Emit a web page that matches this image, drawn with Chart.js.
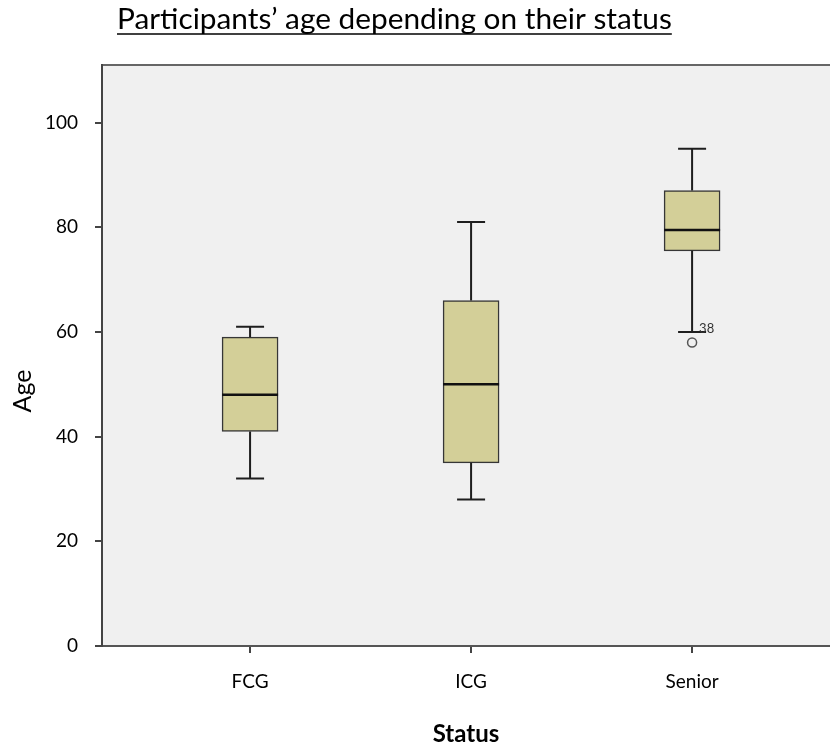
<!DOCTYPE html>
<html>
<head>
<meta charset="utf-8">
<script src="https://cdn.jsdelivr.net/npm/chart.js@4.4.1/dist/chart.umd.min.js"></script>
<style>
  html, body { margin: 0; padding: 0; background: #ffffff; overflow: hidden; }
  #wrap { width: 830px; height: 744px; overflow: hidden; }
  canvas { display: block; }
</style>
</head>
<body>
<div id="wrap"><canvas id="c" width="836" height="744"></canvas></div>
<script>
// ---- Data ----
const categories   = ['FCG', 'ICG', 'Senior'];
const whiskerLow   = [32, 28, 60];
const q1           = [41, 35, 75.5];
const medians      = [48, 50, 79.5];
const q3           = [59, 66, 87];
const whiskerHigh  = [61, 81, 95];
const outlierCategory = ['Senior'];
const outlierValues   = [58];
const outlierLabels   = ['38'];
const yTickValues  = [0, 20, 40, 60, 80, 100];

const chartTitle = 'Participants’ age depending on their status';
const xTitle = 'Status';
const yTitle = 'Age';

const FONT = 'Lato, "Open Sans", "DejaVu Sans", sans-serif';

// floating bars = boxes (Q1..Q3)
const boxData = categories.map((c, i) => ({ x: i + 1, y: [q1[i], q3[i]] }));
const outlierData = outlierValues.map((v, i) => ({ x: categories.indexOf(outlierCategory[i]) + 1, y: v }));

const boxPlugin = {
  id: 'boxExtras',
  beforeDraw(chart) {
    const { ctx, chartArea: a } = chart;
    ctx.save();
    ctx.fillStyle = '#f0f0f0';
    ctx.fillRect(a.left, a.top, a.right - a.left, a.bottom - a.top);
    ctx.strokeStyle = '#666666';
    ctx.lineWidth = 2;
    ctx.beginPath();
    ctx.moveTo(a.left, a.top);
    ctx.lineTo(a.right, a.top);
    ctx.stroke();
    ctx.restore();
  },
  afterDatasetsDraw(chart) {
    const { ctx } = chart;
    const xs = chart.scales.x, ys = chart.scales.y;
    ctx.save();
    ctx.lineCap = 'butt';
    categories.forEach((c, i) => {
      const xc = xs.getPixelForValue(i + 1);
      const yLo = ys.getPixelForValue(whiskerLow[i]);
      const yQ1 = ys.getPixelForValue(q1[i]);
      const yQ3 = ys.getPixelForValue(q3[i]);
      const yHi = ys.getPixelForValue(whiskerHigh[i]);
      const yMed = ys.getPixelForValue(medians[i]);
      ctx.strokeStyle = '#1e1e1e';
      ctx.lineWidth = 2;
      ctx.beginPath();
      ctx.moveTo(xc, yQ3); ctx.lineTo(xc, yHi);
      ctx.moveTo(xc, yQ1); ctx.lineTo(xc, yLo);
      ctx.moveTo(xc - 14, yHi); ctx.lineTo(xc + 14, yHi);
      ctx.moveTo(xc - 14, yLo); ctx.lineTo(xc + 14, yLo);
      ctx.stroke();
      ctx.lineWidth = 2.5;
      ctx.strokeStyle = '#111111';
      ctx.beginPath();
      ctx.moveTo(xc - 28, yMed); ctx.lineTo(xc + 28, yMed);
      ctx.stroke();
    });
    ctx.fillStyle = '#333333';
    ctx.font = '13px ' + FONT;
    ctx.textAlign = 'left';
    ctx.textBaseline = 'middle';
    outlierValues.forEach((v, i) => {
      const px = xs.getPixelForValue(categories.indexOf(outlierCategory[i]) + 1);
      const py = ys.getPixelForValue(v);
      ctx.fillText(outlierLabels[i], px + 7, py - 14);
    });
    ctx.restore();
  },
  afterDraw(chart) {
    const { ctx } = chart;
    ctx.save();
    ctx.fillStyle = '#000000';
    ctx.font = '29.8px ' + FONT;
    ctx.textAlign = 'left';
    ctx.textBaseline = 'alphabetic';
    const tx = 117, ty = 29;
    ctx.fillText(chartTitle, tx, ty);
    const w = ctx.measureText(chartTitle).width;
    ctx.strokeStyle = '#000000';
    ctx.lineWidth = 1.5;
    ctx.beginPath();
    ctx.moveTo(tx, ty + 5);
    ctx.lineTo(tx + w, ty + 5);
    ctx.stroke();
    ctx.translate(23, 391);
    ctx.rotate(-Math.PI / 2);
    ctx.font = '25px ' + FONT;
    ctx.textAlign = 'center';
    ctx.textBaseline = 'middle';
    ctx.fillText(yTitle, 0, 0);
    ctx.restore();
  }
};

new Chart(document.getElementById('c'), {
  type: 'bar',
  data: {
    datasets: [
      {
        type: 'bar',
        label: 'Age',
        data: boxData,
        backgroundColor: '#d3cf98',
        borderColor: '#363636',
        borderWidth: 1.5,
        borderSkipped: false,
        barThickness: 56,
        grouped: false,
        order: 2
      },
      {
        type: 'scatter',
        label: 'Outliers',
        data: outlierData,
        pointStyle: 'circle',
        pointRadius: 4.5,
        pointBorderWidth: 1.5,
        pointBorderColor: '#555555',
        pointBackgroundColor: 'rgba(0,0,0,0)',
        order: 1
      }
    ]
  },
  options: {
    responsive: false,
    animation: false,
    devicePixelRatio: 1,
    layout: { padding: { top: 65, left: 0, right: 0, bottom: 0 } },
    plugins: {
      legend: { display: false },
      tooltip: { enabled: false },
      title: { display: false }
    },
    scales: {
      x: {
        type: 'linear',
        min: 0.330,
        max: 3.624,
        offset: false,
        afterBuildTicks: (s) => { s.ticks = categories.map((c, i) => ({ value: i + 1 })); },
        afterFit: (s) => { s.height = 98; s.paddingLeft = 0; s.paddingRight = 0; },
        ticks: {
          callback: (v) => categories[Math.round(v) - 1] || '',
          color: '#000000',
          font: { family: FONT, size: 19 },
          padding: 17,
          maxRotation: 0,
          autoSkip: false
        },
        grid: {
          offset: false,
          drawOnChartArea: false,
          drawTicks: true,
          tickLength: 7,
          color: '#444444',
          lineWidth: 2
        },
        border: { display: true, color: '#555555', width: 2 },
        title: {
          display: true,
          text: xTitle,
          color: '#000000',
          font: { family: FONT, size: 24, weight: 'bold', lineHeight: 0.8 },
          padding: { top: 0, bottom: 0 }
        }
      },
      y: {
        type: 'linear',
        min: 0,
        max: 111,
        afterBuildTicks: (s) => { s.ticks = yTickValues.map(v => ({ value: v })); },
        afterFit: (s) => { s.width = 102; s.paddingTop = 0; s.paddingBottom = 0; },
        ticks: {
          color: '#000000',
          font: { family: FONT, size: 19 },
          padding: 17
        },
        grid: {
          drawOnChartArea: false,
          drawTicks: true,
          tickLength: 7,
          color: '#444444',
          lineWidth: 2
        },
        border: { display: true, color: '#444444', width: 2 }
      }
    }
  },
  plugins: [boxPlugin]
});
</script>
</body>
</html>
